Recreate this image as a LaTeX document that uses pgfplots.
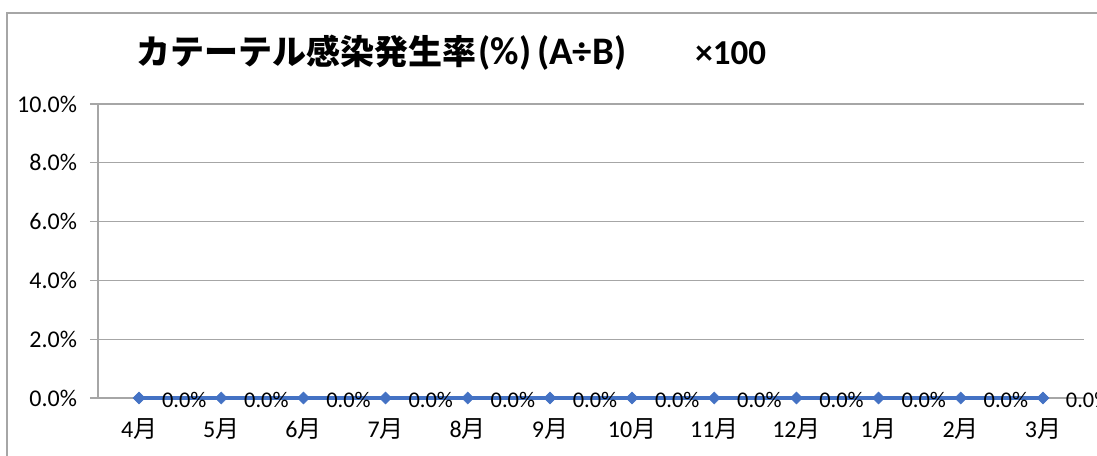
\documentclass[border=0pt]{standalone}
\usepackage{fontspec}
\setmainfont{Carlito}
\newfontfamily\cjk{Noto Sans CJK JP}
\usepackage{pgfplots}
\pgfplotsset{compat=1.18}
\definecolor{ser}{HTML}{4472C4}
\definecolor{gridc}{HTML}{A6A6A6}
\begin{document}
\begin{tikzpicture}
\useasboundingbox (0,0) rectangle (548.5pt,227.5pt);
\begin{scope}
\clip (0,0) rectangle (548.5pt,227.5pt);
\draw[gridc, line width=0.6pt] (3.5pt,-5pt) -- (3.5pt,221pt) -- (560pt,221pt);
\end{scope}
\node[font=\bfseries\fontsize{19.5}{22}\selectfont, inner sep=0pt, anchor=base west] at (68pt,195pt)
  {{\cjk\fontsize{17}{20}\selectfont カテーテル感染発生率}\kern1pt(\%)\kern3pt(A÷B)\hspace{34.5pt}{\fontsize{17.5}{20}\selectfont ×100}};
\begin{axis}[
  at={(49pt,28.5pt)}, anchor=south west,
  width=493pt, height=147pt, scale only axis,
  xmin=-0.5, xmax=11.5, ymin=0, ymax=0.1,
  axis lines*=left,
  axis line style={gridc, line width=0.6pt},
  x axis line style={draw=none},
  xtick={0,...,11},
  xticklabels={{4\cjk 月},{5\cjk 月},{6\cjk 月},{7\cjk 月},{8\cjk 月},{9\cjk 月},{10\cjk 月},{11\cjk 月},{12\cjk 月},{1\cjk 月},{2\cjk 月},{3\cjk 月}},
  x tick style={draw=none},
  ytick={0,0.02,0.04,0.06,0.08,0.1},
  yticklabels={0.0\%,2.0\%,4.0\%,6.0\%,8.0\%,10.0\%},
  y tick style={gridc, line width=0.6pt},
  tick align=outside, major tick length=4pt,
  ymajorgrids, grid style={gridc, line width=0.6pt},
  ticklabel style={font=\fontsize{12}{14}\selectfont, text=black},
  xticklabel style={yshift=-3pt},
  yticklabel style={xshift=-3pt},
  clip=false,
]
\addplot[ser, line width=2pt, mark=square*, mark size=2.1pt,
  mark options={fill=ser, draw=ser, line width=0.3pt, rotate=45},
  nodes near coords={0.0\%},
  every node near coord/.append style={anchor=west, xshift=8pt, yshift=-1pt, text=black, font=\fontsize{11.2}{13}\selectfont}]
  coordinates {(0,0) (1,0) (2,0) (3,0) (4,0) (5,0) (6,0) (7,0) (8,0) (9,0) (10,0) (11,0)};
\end{axis}
\end{tikzpicture}
\end{document}
